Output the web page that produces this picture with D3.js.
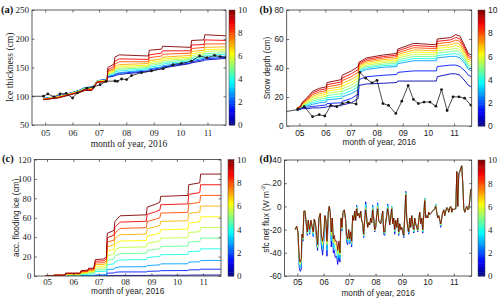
<!DOCTYPE html>
<html><head><meta charset="utf-8">
<script src="https://cdn.jsdelivr.net/npm/d3@7/dist/d3.min.js"></script>
<style>html,body{margin:0;padding:0;background:#fff;}svg{display:block;}</style>
</head><body>
<svg id="chart" width="500" height="300"></svg>
<script>
// ---------------- shared data ----------------
const monthLabels = ["05","06","07","08","09","10","11"];
const dayRange = [-15, 205];            // days relative to 2016-05-01
const lineLevels = [0.5,1.5,2.8,4,4.8,5.6,6.3,7,8,8.8,10];
const colorbarTicks = [0,2,4,6,8,10];

// ---------------- (a) ice thickness ----------------
const iceTicks = [50,100,150,200,250];
const iceDays = [-2,15,30,40,45,53,56,59,70,71,78,79,84,117,118,132,133,165,166,180,181,206];
const iceLines = [
 [96,100,106,111,115,116,120,127,129,133,135,136,138,143,144,148,149,157,158,162,163,166],
 [96,100,106,111,115,116,120,127,129,134,136,138,140,144,146,150,151,158,160,164,165,168],
 [96,100,106,111,115,115,120,127,129,135,137,139,141,146,148,151,153,160,162,166,167,170],
 [96,99,105,110,114,115,119,126,128,136,139,142,144,148,150,154,156,162,165,168,171,173],
 [95,99,105,110,114,114,119,126,128,137,140,144,147,150,153,157,159,164,168,171,174,176],
 [95,99,105,110,113,114,119,126,128,139,142,147,149,152,156,159,162,166,171,174,178,179],
 [95,99,105,109,113,114,119,126,127,140,144,149,152,154,159,162,165,168,174,177,181,182],
 [95,98,104,109,112,113,118,125,127,142,146,152,155,157,162,165,168,171,178,180,185,186],
 [95,98,104,108,112,112,118,125,126,144,148,156,160,160,167,170,173,175,183,185,191,191],
 [94,98,104,108,111,111,118,125,126,146,152,161,165,164,172,175,179,179,189,190,198,197],
 [94,97,103,107,110,110,117,124,125,150,156,168,172,170,180,182,187,185,197,198,207,205]
];
const iceObsDays = [-15,-1.9,2.9,10,16.9,23.7,31,36.6,47.2,54.7,62.2,69,79.1,81.7,86.6,92.2,97.9,109.2,120.5,133.7,145,154.4,165.7,175.1,183.4,192,198.4,205.2];
const iceObs = [100,100,104,99,104,105,97,106,114,116,120,126,126.5,126,130,129,136,141,144,148,155,157,161,170,167,171,169,168];

// ---------------- (b) snow depth ----------------
const snowTicks = [0,20,40,60,80];
const snowDays = [-3,2,3,10,16,24,32,33,50,51,62,70,71,80,100,116,117,136,163,164,180,186,191,197,201,205];
const snowLines = [
 [11,11.5,12,12,12.5,12.5,13,13.5,14,14.5,16,19,28,29,29.5,30,31,31,31,34,36,36,35,31,28,27],
 [11,12,12.5,13,13.5,14,14.5,15.5,16,17,19,22,32,34,35,35.5,37,38,38,41,42,42,41,38,35,34],
 [11.5,12.5,13,14,15,16,16.5,18,19,20,22.5,25,37,39,40.5,41,43,45,45,47,48,48,47,43,39,38],
 [12,12.7,13.4,14.8,16.1,17.3,17.8,19.5,20.6,21.9,24.4,27,37.9,40,41.6,42.1,44.3,46.5,46.4,48.6,49.6,49.9,48.9,44.5,40.4,39.4],
 [12,12.9,13.8,15.5,17.3,18.5,19.1,21,22.3,23.8,26.4,29,38.8,41,42.6,43.3,45.5,48,47.8,50.3,51.3,51.8,50.8,46,41.8,40.8],
 [12,13.1,14.1,16.3,18.4,19.8,20.4,22.5,23.9,25.6,28.3,31,39.6,42,43.7,44.4,46.8,49.5,49.1,51.9,52.9,53.6,52.6,47.5,43.1,42.1],
 [12,13.3,14.5,17,19.5,21,21.8,24,25.5,27.5,30.3,33,40.5,43,44.8,45.5,48,51,50.5,53.5,54.5,55.5,54.5,49,44.5,43.5],
 [12,13.4,14.9,17.8,20.6,22.3,23.1,25.5,27.1,29.4,32.2,35,41.4,44,45.8,46.6,49.3,52.5,51.9,55.1,56.1,57.4,56.4,50.5,45.9,44.9],
 [12,13.6,15.3,18.5,21.8,23.5,24.4,27,28.8,31.3,34.1,37,42.3,45,46.9,47.8,50.5,54,53.3,56.8,57.8,59.3,58.3,52,47.3,46.3],
 [12,13.8,15.6,19.3,22.9,24.8,25.7,28.5,30.4,33.1,36.1,39,43.1,46,47.9,48.9,51.8,55.5,54.6,58.4,59.4,61.1,60.1,53.5,48.6,47.6],
 [12,14,16,20,24,26,27,30,32,35,38,41,44,47,49,50,53,57,56,60,61,63,62,55,50,49]
];
const snowObsDays = [-15,-1.9,5.9,15.8,23.6,30.3,37.4,44.5,51.2,58.2,67.6,71.9,79,86.5,92.4,99.5,106.1,114.8,121.9,129.4,135.7,141.6,148.3,155.4,162.4,169.1,175.8,182.8,189.9,196.6,204];
const snowObs = [10,11.4,13.3,6.4,7.8,6.9,14.2,13.3,15.5,16.5,15.1,37,33,29.7,31.5,15.5,14.2,8.7,17.1,27.9,18.3,15.5,16.5,16.5,13.7,25.1,10.7,20.1,20.1,19.2,14.4];

// ---------------- (c) accumulated flooding ice ----------------
const floodTicks = [0,20,40,60,80,100,120];
const floodDays = [-2,7,8,21,22,39,40,48,49,55,57,67,70,71,79,80,86,117,118,128,133,134,166,167,180,181,205];
const floodLines = [
 [0,0,0,0,0,0,0,0,0,0,0,0,0,0.4,0.5,0.6,0.6,0.6,0.7,0.7,0.8,0.8,0.8,0.9,1,1,1],
 [0,0,0,0,0,0,0,0,0,0,0,0,0,2.9,3.1,3.8,4.2,4.2,4.8,5,5.1,5.5,5.6,6.3,6.4,7,7],
 [0,0,0,0,0.2,0.2,0.4,0.5,0.6,0.6,1.3,1.4,1.6,6.7,7.1,8.5,9.4,9.6,10.8,11.2,11.6,12.5,12.6,14.3,14.6,16,16],
 [0,0,0.3,0.3,0.8,0.8,1.5,1.6,2.1,2.1,4.5,4.7,5.3,11.7,12.5,15,16.6,16.8,19,19.8,20.3,21.9,22.2,25.1,25.6,28,28],
 [0,0,0.4,0.4,1.1,1.1,2,2.2,3,3,6.3,6.5,7.4,16.3,17.4,20.8,23,23.4,26.3,27.5,28.2,30.4,30.8,34.9,35.6,39,39],
 [0,0,0.5,0.5,1.4,1.4,2.6,2.9,3.8,3.8,8.1,8.3,9.5,20.9,22.4,26.7,29.5,30,33.8,35.2,36.2,39,39.5,44.7,45.7,50,50],
 [0,0,0.6,0.6,1.7,1.7,3.2,3.5,4.6,4.6,9.9,10.2,11.6,25.6,27.3,32.5,36,36.6,41.3,43,44.2,47.6,48.2,54.6,55.8,61,61],
 [0,0,0.7,0.7,2.1,2.1,3.8,4.1,5.5,5.5,11.7,12,13.7,30.2,32.2,38.4,42.5,43.2,48.7,50.8,52.1,56.3,56.9,64.5,65.9,72,72],
 [0,0,0.8,0.8,2.4,2.4,4.3,4.7,6.3,6.3,13.4,13.8,15.8,34.8,37.1,44.2,49,49.8,56.1,58.5,60,64.8,65.6,74.3,75.8,83,83],
 [0,0,0.9,0.9,2.7,2.7,4.9,5.4,7.2,7.2,15.2,15.7,17.9,39.4,42.1,50.1,55.5,56.4,63.5,66.2,68,73.4,74.3,84.1,85.9,94,94],
 [0,0,1,1,3,3,5.5,6,8,8,17,17.5,20,44,47,56,62,63,71,74,76,82,83,94,96,105,105]
];

// ---------------- (d) surface net flux ----------------
const fluxTicks = [-60,-40,-20,0,20,40];
const fluxLevels = [1,3.5,6,10];
const fluxDays = [-2.4,-0.8,0.8,2.4,3.5,4.7,5.5,6.7,7.8,9.0,
 10.6,11.8,12.9,14.5,16.1,17.6,18.8,20.0,21.6,22.7,
 23.9,25.5,27.1,28.2,29.8,31.4,32.5,33.7,34.9,36.5,
 37.6,38.8,40.0,41.2,42.4,43.5,44.7,46.3,47.5,49.0,
 50.2,51.4,52.5,53.7,55.3,56.9,58.0,59.2,60.4,61.6,
 62.7,63.9,65.1,66.3,67.5,68.6,69.8,71.0,72.2,73.3,
 74.5,75.7,76.9,78.0,79.2,80.4,81.6,82.7,83.9,85.1,
 86.3,87.5,88.6,89.8,91.0,92.2,93.3,94.5,95.7,96.9,
 98.0,99.2,100.4,101.6,102.7,103.9,105.1,106.3,107.5,108.6,
 109.8,111.0,112.2,113.3,114.5,115.7,116.9,118.0,119.2,120.4,
 121.6,122.7,123.9,125.1,126.3,127.5,128.6,129.8,131.0,132.2,
 133.3,134.5,135.7,136.9,138.0,139.2,140.4,141.6,142.7,143.9,
 145.1,146.3,147.5,148.6,149.8,151.0,152.2,153.3,154.5,155.7,
 156.9,158.0,159.2,160.4,161.6,162.7,163.9,165.1,166.3,167.5,
 168.6,169.8,171.0,172.2,173.3,174.5,175.7,176.9,178.0,179.2,
 180.4,181.6,182.7,183.9,185.1,186.3,187.5,188.6,189.8,191.0,
 192.2,193.3,194.5,195.7,196.9,198.0,199.2,200.4,201.6,202.7,
 203.9];
const fluxLines = [
 [-20,-17,-22,-53,-56,-54,-24,-30,-4,-4,
  -15,-25,-12,-24,-12,-18,-26,-11,-16,-32,
  -38,-10,-6,-33,-42,-28,-8,-12,-43,-5,
  0,-5,-35,-10,-40,-38,-44,-43,-50,-42,
  -48,-10,-21,-5,-3,-12,-30,-33,-20,-32,
  -22,-35,-8,-12,-4,-12,1,-8,-6,-10,
  -4,-12,-15,-27,-12,4,-10,-18,-14,-16,
  -10,-14,1,-10,-22,-18,-8,3,-12,-14,
  -15,-10,-4,-24,-25,-14,-8,2,-8,-16,
  -10,0,-15,-10,-24,-12,-18,-10,-25,-15,
  -20,-18,-22,-27,-8,13,-10,-18,-24,-10,
  -18,-8,-15,-23,-10,-15,-18,-22,-12,-5,
  -15,-10,-23,-8,7,-10,-8,-10,-5,-7,
  -6,-5,-4,-3,-2,2,-5,-10,-8,-12,
  -18,-10,-5,-3,-8,-4,-1,-2,-5,-1,
  0,-5,-2,-3,-2,-2,30,0,28,30,
  33,35,20,-2,-5,-2,0,-3,-2,5,
  15],
 [-20,-17,-22,-50,-53,-50,-24,-29,-4,-4,
  -15,-24,-12,-23,-12,-18,-25,-11,-16,-30,
  -36,-10,-6,-30,-37,-25,-8,-12,-38,-5,
  0,-5,-30,-10,-36,-33,-38,-38,-45,-38,
  -45,-10,-20,-5,-3,-12,-28,-31,-20,-31,
  -22,-33,-8,-12,-4,-12,0,-8,-6,-10,
  -4,-12,-15,-26,-12,2,-10,-18,-14,-16,
  -10,-14,0,-10,-21,-18,-8,2,-12,-14,
  -15,-10,-4,-23,-24,-14,-8,1,-8,-16,
  -10,0,-15,-10,-22,-12,-18,-10,-24,-15,
  -20,-18,-22,-26,-8,12,-10,-18,-23,-10,
  -18,-8,-15,-22,-10,-15,-18,-21,-12,-5,
  -15,-10,-22,-8,7,-10,-8,-10,-5,-7,
  -6,-5,-4,-3,-2,2,-5,-10,-8,-12,
  -17,-10,-5,-3,-8,-4,-1,-2,-5,-1,
  0,-5,-2,-3,-2,-2,30,0,28,30,
  33,35,20,-2,-5,-2,0,-3,-2,5,
  15],
 [-20,-17,-22,-47,-50,-47,-24,-28,-4,-4,
  -15,-23,-12,-21,-12,-18,-23,-11,-16,-27,
  -35,-10,-6,-27,-33,-22,-8,-12,-33,-5,
  0,-5,-25,-10,-31,-28,-33,-33,-41,-33,
  -42,-10,-19,-5,-3,-12,-26,-29,-20,-29,
  -22,-31,-8,-12,-4,-12,-1,-8,-6,-10,
  -4,-12,-15,-25,-12,-1,-10,-18,-14,-16,
  -10,-14,-2,-10,-21,-18,-8,0,-12,-14,
  -15,-10,-4,-22,-23,-14,-8,-1,-8,-16,
  -10,-1,-15,-10,-21,-12,-18,-10,-23,-15,
  -20,-18,-22,-25,-8,11,-10,-18,-22,-10,
  -18,-8,-15,-21,-10,-15,-18,-21,-12,-5,
  -15,-10,-21,-8,6,-10,-8,-10,-5,-7,
  -6,-5,-4,-3,-2,1,-5,-10,-8,-12,
  -16,-10,-5,-3,-8,-4,-1,-2,-5,-1,
  0,-5,-2,-3,-2,-2,30,0,28,30,
  33,35,20,-2,-5,-2,0,-3,-2,5,
  15],
 [-20,-17,-22,-45,-48,-45,-24,-27,-4,-4,
  -15,-22,-12,-20,-12,-18,-22,-11,-16,-25,
  -33,-10,-6,-25,-30,-20,-8,-12,-30,-5,
  0,-5,-22,-10,-28,-25,-30,-30,-38,-30,
  -40,-10,-18,-5,-3,-12,-25,-28,-20,-28,
  -22,-30,-8,-12,-4,-12,-2,-8,-6,-10,
  -4,-12,-15,-24,-12,-3,-10,-18,-14,-16,
  -10,-14,-3,-10,-20,-18,-8,-2,-12,-14,
  -15,-10,-4,-22,-22,-14,-8,-2,-8,-16,
  -10,-2,-15,-10,-20,-12,-18,-10,-22,-15,
  -20,-18,-22,-25,-8,10,-10,-18,-22,-10,
  -18,-8,-15,-20,-10,-15,-18,-20,-12,-5,
  -15,-10,-20,-8,5,-10,-8,-10,-5,-7,
  -6,-5,-4,-3,-2,0,-5,-10,-8,-12,
  -15,-10,-5,-3,-8,-4,-1,-2,-5,-1,
  0,-5,-2,-3,-2,-2,30,0,28,30,
  33,35,20,-2,-5,-2,0,-3,-2,5,
  15]
];

// ---------------- rendering ----------------
const SERIF = "'Liberation Serif','Times New Roman',Times,serif";
const SANS = "'Liberation Sans',Arial,Helvetica,sans-serif";
const base = new Date(2016, 4, 1);
const toDate = d => new Date(base.getTime() + d * 86400000);
const monthDates = monthLabels.map(m => new Date(2016, +m - 1, 1));

function jet(t) {
  t = Math.max(0, Math.min(1, t));
  const c = v => Math.round(255 * Math.max(0, Math.min(1, v)));
  return `rgb(${c(1.5 - Math.abs(4*t - 3))},${c(1.5 - Math.abs(4*t - 2))},${c(1.5 - Math.abs(4*t - 1))})`;
}
const color = d3.scaleSequential(jet).domain([0, 10]);
const svg = d3.select("#chart");
const defs = svg.append("defs");

function drawPanel(p) {
  const x = d3.scaleTime().domain(dayRange.map(toDate)).range([p.L, p.R]);
  const y = d3.scaleLinear().domain(p.yDom).range([p.B, p.T]);
  const g = svg.append("g");
  const cid = "clip-" + p.tag;
  defs.append("clipPath").attr("id", cid).append("rect")
    .attr("x", p.L).attr("y", p.T).attr("width", p.R - p.L).attr("height", p.B - p.T);
  const plot = g.append("g").attr("clip-path", `url(#${cid})`);
  const line = d3.line().x(d => x(toDate(d[0]))).y(d => y(d[1]));
  p.lines.forEach((vals, i) => {
    plot.append("path").datum(vals.map((v, j) => [p.days[j], v]))
      .attr("d", line).attr("fill", "none")
      .attr("stroke", color(p.levels[i]))
      .attr("stroke-width", p.lw).attr("stroke-linejoin", "round");
  });
  if (p.obs) {
    const pts = p.obs.map((v, j) => [p.obsDays[j], v]);
    plot.append("path").datum(pts).attr("d", line).attr("fill", "none")
      .attr("stroke", "#1a1a1a").attr("stroke-width", 0.8);
    plot.selectAll("circle.obs").data(pts.slice(1)).join("circle").attr("class", "obs")
      .attr("cx", d => x(toDate(d[0]))).attr("cy", d => y(d[1]))
      .attr("r", 1.4).attr("fill", "#1a1a1a");
  }
  // axes
  const axB = g.append("g").attr("transform", `translate(0,${p.B})`)
    .call(d3.axisBottom(x).tickValues(monthDates).tickFormat(d3.timeFormat("%m"))
      .tickSizeInner(-2.5).tickSizeOuter(0).tickPadding(p.xPad));
  const axT = g.append("g").attr("transform", `translate(0,${p.T})`)
    .call(d3.axisTop(x).tickValues(monthDates).tickFormat(() => "").tickSizeInner(-2.5).tickSizeOuter(0));
  const axL = g.append("g").attr("transform", `translate(${p.L},0)`)
    .call(d3.axisLeft(y).tickValues(p.yTicks).tickFormat(d => String(d))
      .tickSizeInner(-2.5).tickSizeOuter(0).tickPadding(3));
  const axR = g.append("g").attr("transform", `translate(${p.R},0)`)
    .call(d3.axisRight(y).tickValues(p.yTicks).tickFormat(() => "").tickSizeInner(-2.5).tickSizeOuter(0));
  [axB, axT, axL, axR].forEach(a => {
    a.select(".domain").remove();
    a.selectAll("line").attr("stroke", "#333").attr("stroke-width", 0.7);
    a.selectAll("text").attr("fill", "#1a1a1a");
  });
  axB.attr("font-family", p.xTickFont).attr("font-size", p.tickSize);
  axL.attr("font-family", p.yTickFont).attr("font-size", p.tickSize);
  g.append("rect").attr("x", p.L).attr("y", p.T).attr("width", p.R - p.L).attr("height", p.B - p.T)
    .attr("fill", "none").attr("stroke", "#333").attr("stroke-width", 0.8);

  // colorbar
  const cy = d3.scaleLinear().domain([0, 10]).range([p.B, p.T]);
  const steps = d3.range(64);
  g.selectAll("rect.cb").data(steps).join("rect").attr("class", "cb")
    .attr("x", p.cbL).attr("width", p.cbR - p.cbL)
    .attr("y", i => cy((i + 1) * 10 / 64))
    .attr("height", i => cy(i * 10 / 64) - cy((i + 1) * 10 / 64) + 0.4)
    .attr("fill", i => color((i + 0.5) * 10 / 64));
  g.append("rect").attr("x", p.cbL).attr("y", p.T).attr("width", p.cbR - p.cbL).attr("height", p.B - p.T)
    .attr("fill", "none").attr("stroke", "#444").attr("stroke-width", 0.5);
  const axC = g.append("g").attr("transform", `translate(${p.cbR},0)`)
    .call(d3.axisRight(cy).tickValues(colorbarTicks).tickSize(0).tickPadding(3));
  axC.select(".domain").remove();
  axC.attr("font-family", p.cbFont).attr("font-size", p.cbSize);
  axC.selectAll("text").attr("fill", "#1a1a1a");

  // labels
  g.append("text").attr("x", (p.L + p.R) / 2).attr("y", p.xlabY).attr("text-anchor", "middle")
    .attr("font-family", p.labFont).attr("font-size", p.labSize).attr("fill", "#1a1a1a").text(p.xlab);
  const yl = g.append("text")
    .attr("transform", `translate(${p.ylabX},${(p.T + p.B) / 2}) rotate(-90)`)
    .attr("text-anchor", "middle").attr("dominant-baseline", "central")
    .attr("font-family", p.labFont).attr("font-size", p.labSize).attr("fill", "#1a1a1a");
  if (p.ylabSup) {
    yl.append("tspan").text(p.ylab);
    yl.append("tspan").attr("dy", -3).attr("font-size", p.labSize * 0.7).text(p.ylabSup);
    yl.append("tspan").attr("dy", 3).text(")");
  } else yl.text(p.ylab);
  g.append("text").attr("x", p.tagX).attr("y", p.tagY)
    .attr("font-family", SERIF).attr("font-weight", "bold").attr("font-size", 10.5)
    .attr("fill", "#111").text(`(${p.tag})`);
}

drawPanel({tag: "a", L: 32, R: 226, T: 10, B: 125, cbL: 229, cbR: 235,
  yDom: [50, 250], yTicks: iceTicks, days: iceDays, lines: iceLines, levels: lineLevels, lw: 0.9,
  obs: iceObs, obsDays: iceObsDays, xPad: 5,
  xTickFont: SERIF, yTickFont: SERIF, tickSize: 9, cbFont: SERIF, cbSize: 9,
  labFont: SERIF, labSize: 9.5, xlab: "month of year, 2016", xlabY: 146.5,
  ylab: "Ice thickness (cm)", ylabX: 10, tagX: 1, tagY: 12.5});

drawPanel({tag: "b", L: 286.7, R: 471.7, T: 10, B: 126, cbL: 478, cbR: 485,
  yDom: [0, 80], yTicks: snowTicks, days: snowDays, lines: snowLines, levels: lineLevels, lw: 0.9,
  obs: snowObs, obsDays: snowObsDays, xPad: 4.5,
  xTickFont: SANS, yTickFont: SANS, tickSize: 8.3, cbFont: SANS, cbSize: 8.5,
  labFont: SANS, labSize: 8.3, xlab: "month of year, 2016", xlabY: 145,
  ylab: "Snow depth (cm)", ylabX: 267, tagX: 259.5, tagY: 12.5});

drawPanel({tag: "c", L: 34.3, R: 221, T: 159.5, B: 276, cbL: 228, cbR: 234,
  yDom: [0, 120], yTicks: floodTicks, days: floodDays, lines: floodLines, levels: lineLevels, lw: 0.9,
  xPad: 2.5,
  xTickFont: SERIF, yTickFont: SERIF, tickSize: 8.8, cbFont: SERIF, cbSize: 9,
  labFont: SANS, labSize: 8.3, xlab: "month of year, 2016", xlabY: 294,
  ylab: "acc. flooding ice (cm)", ylabX: 15.5, tagX: 2, tagY: 162});

drawPanel({tag: "d", L: 284.5, R: 471.7, T: 160, B: 276, cbL: 478, cbR: 485,
  yDom: [-60, 40], yTicks: fluxTicks, days: fluxDays, lines: fluxLines, levels: fluxLevels, lw: 0.9,
  xPad: 3.5,
  xTickFont: SANS, yTickFont: SANS, tickSize: 8.3, cbFont: SERIF, cbSize: 9,
  labFont: SANS, labSize: 8.3, xlab: "month of year, 2016", xlabY: 295.5,
  ylab: "sfc net flux (W m", ylabSup: "-2", ylabX: 265.5, tagX: 259.5, tagY: 162});
</script>
</body></html>
